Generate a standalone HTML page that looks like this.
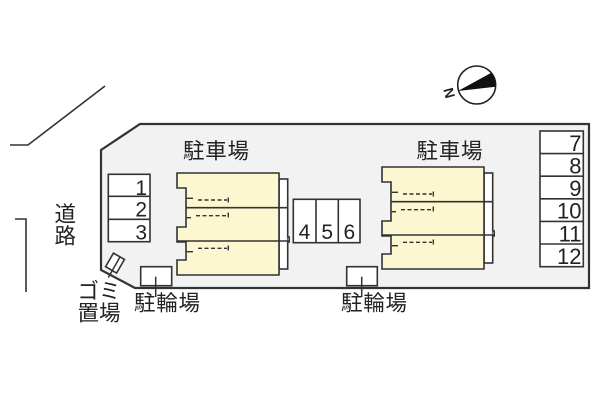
<!DOCTYPE html>
<html><head><meta charset="utf-8"><style>
html,body{margin:0;padding:0;background:#fff;}
svg{display:block;}
.j{font-family:"Liberation Sans","Noto Sans CJK JP",sans-serif;font-size:21.5px;fill:#222;}
.d{font-family:"Liberation Sans",sans-serif;font-size:21px;fill:#222;}
</style></head><body>
<svg width="600" height="400" viewBox="0 0 600 400" xmlns="http://www.w3.org/2000/svg">
<rect width="600" height="400" fill="#fff"/>
<!-- road lines -->
<polyline points="10,145 28,145 105,86" fill="none" stroke="#333" stroke-width="1.6"/>
<polyline points="15,219 26,219 26,292" fill="none" stroke="#333" stroke-width="1.6"/>
<!-- site -->
<polygon points="101,150 140,124 589,124 589,288 135,288 101,270" fill="#f2f2f2" stroke="#333" stroke-width="2.2"/>
<!-- compass -->
<circle cx="476.7" cy="85" r="19" fill="#fff" stroke="#222" stroke-width="1.6"/>
<path d="M458,91 L491.3,72.8 A19,19 0 0 1 495.6,86.7 Z" fill="#111"/>
<text x="0" y="0" transform="translate(449,93) rotate(-105)" text-anchor="middle" dominant-baseline="central" style="font-family:'Liberation Sans',sans-serif;font-size:14px;font-weight:bold;fill:#222">N</text>

<!-- building template -->
<g id="b1" stroke="#333" stroke-width="1.6">
  <rect x="279" y="179" width="8.7" height="90" fill="#fff"/>
  <path d="M287.7,237 h1.5 v5 h-1.5" fill="#fff"/>
  <path d="M177,173 H279 V275 H177 V260 H186 V242 H177 V227 H186 V188 H177 Z" fill="#fcf7d0"/>
  <line x1="186" y1="207.7" x2="287.7" y2="207.7"/>
  <line x1="177" y1="241" x2="289" y2="241"/>
  <g fill="none" stroke-width="1.4">
    <polyline points="186.7,198.3 193,198.3"/>
    <line x1="198" y1="200" x2="227" y2="200" stroke-dasharray="4,2.5"/>
    <line x1="228.3" y1="197.5" x2="228.3" y2="202.5"/>
    <polyline points="186.7,217.7 191,217.7"/>
    <line x1="196" y1="215.7" x2="227" y2="215.7" stroke-dasharray="4,2.5"/>
    <line x1="228.3" y1="212.5" x2="228.3" y2="217.5"/>
    <polyline points="186.7,251.7 193,251.7"/>
    <line x1="198" y1="248.3" x2="227" y2="248.3" stroke-dasharray="4,2.5"/>
    <line x1="228.3" y1="245.5" x2="228.3" y2="250.5"/>
  </g>
</g>
<use href="#b1" transform="translate(205,-6)"/>

<!-- 1-3 -->
<g fill="#fff" stroke="#333" stroke-width="1.6">
  <rect x="108.3" y="174.3" width="41.7" height="67.4"/>
  <line x1="108.3" y1="196.3" x2="150" y2="196.3"/>
  <line x1="108.3" y1="219.3" x2="150" y2="219.3"/>
  <!-- 4-6 -->
  <rect x="293.3" y="199.3" width="66.7" height="43.4"/>
  <line x1="316" y1="199.3" x2="316" y2="242.7"/>
  <line x1="338.3" y1="199.3" x2="338.3" y2="242.7"/>
  <!-- 7-12 -->
  <rect x="540" y="131" width="43.3" height="135.7"/>
  <line x1="540" y1="153.6" x2="583.3" y2="153.6"/>
  <line x1="540" y1="176.2" x2="583.3" y2="176.2"/>
  <line x1="540" y1="198.8" x2="583.3" y2="198.8"/>
  <line x1="540" y1="221.4" x2="583.3" y2="221.4"/>
  <line x1="540" y1="244" x2="583.3" y2="244"/>
  <!-- bike sheds -->
  <rect x="140.7" y="266.7" width="31" height="19"/>
  <rect x="346.7" y="266.7" width="30.6" height="19"/>
  <!-- gomi -->
  <rect x="-6.3" y="-7.8" width="12.7" height="15.7" transform="translate(115,263) rotate(30)"/>
</g>
<g stroke="#333" stroke-width="1.5">
  <line x1="155.7" y1="276.7" x2="155.7" y2="297"/>
  <line x1="361.7" y1="276.7" x2="361.7" y2="297"/>
  <line x1="120" y1="257" x2="108.3" y2="277.5"/>
</g>

<!-- digits -->
<text class="d" x="147" y="195" text-anchor="end">1</text>
<text class="d" x="147" y="216.7" text-anchor="end">2</text>
<text class="d" x="147" y="239.3" text-anchor="end">3</text>
<text class="d" x="304.5" y="239" text-anchor="middle">4</text>
<text class="d" x="327.2" y="239" text-anchor="middle">5</text>
<text class="d" x="349.4" y="239" text-anchor="middle">6</text>
<g class="d" style="font-size:22px" text-anchor="end">
<text x="581.5" y="151">7</text>
<text x="581.5" y="173.5">8</text>
<text x="581.5" y="196">9</text>
<text x="581.5" y="218.7">10</text>
<text x="581.5" y="241.3">11</text>
<text x="581.5" y="264">12</text>
</g>

<!-- labels -->
<text class="j" x="183" y="158.5" textLength="66" lengthAdjust="spacing">駐車場</text>
<text class="j" x="416.5" y="158.5" textLength="66" lengthAdjust="spacing">駐車場</text>
<text class="j" x="134" y="310.5" textLength="66" lengthAdjust="spacing">駐輪場</text>
<text class="j" x="341" y="310.5" textLength="66" lengthAdjust="spacing">駐輪場</text>
<text class="j" x="54.5" y="221.5">道</text>
<text class="j" x="54.5" y="243.5">路</text>
<text class="j" x="77.5" y="298.5">ゴミ</text>
<text class="j" x="77.5" y="320.5">置場</text>
</svg>
</body></html>
